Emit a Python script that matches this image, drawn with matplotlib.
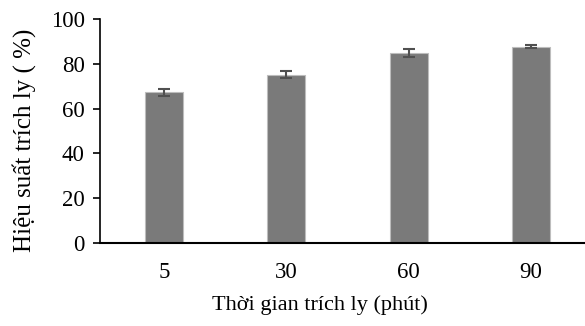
import numpy as np
import matplotlib
matplotlib.use("Agg")
import matplotlib.pyplot as plt

plt.rcParams['font.family'] = ['Liberation Serif', 'DejaVu Serif']

# extraction time (minutes) and yield (%)
times = ['5', '30', '60', '90']
yields = [67.3, 75.2, 84.7, 87.7]
errors = [1.5, 1.7, 1.7, 0.8]

fig = plt.figure(figsize=(5.85, 3.26), dpi=100)
ax = fig.add_axes([0.171, 0.2546, 0.829, 0.6871])

x = np.arange(len(times))
ax.bar(x, yields, width=0.31, color='#7a7a7a', edgecolor='#bdbdbd', linewidth=0.8,
       yerr=errors, error_kw=dict(ecolor='#505050', elinewidth=1.5, capsize=4, capthick=1.5),
       zorder=2)

ax.set_xlim(-0.523, 3.44)
ax.set_ylim(0, 100)
ax.set_yticks(np.arange(0, 101, 20))
ax.set_xticks(x)
ax.set_xticklabels(times)

for s in ['top', 'right']:
    ax.spines[s].set_visible(False)
ax.spines['left'].set_linewidth(1.2)
ax.spines['bottom'].set_linewidth(1.5)

ax.tick_params(axis='y', direction='out', length=5, width=1.2, pad=6, labelsize=16.5)
ax.tick_params(axis='x', length=0, pad=14, labelsize=16.5)

ax.set_ylabel('Hiệu suất trích ly ( %)', fontsize=18)
ax.set_xlabel('Thời gian trích ly (phút)', fontsize=16)
ax.yaxis.set_label_coords(-0.133, 0.46)
ax.xaxis.set_label_coords(0.454, -0.235)

fig.savefig('out.png', dpi=100)
